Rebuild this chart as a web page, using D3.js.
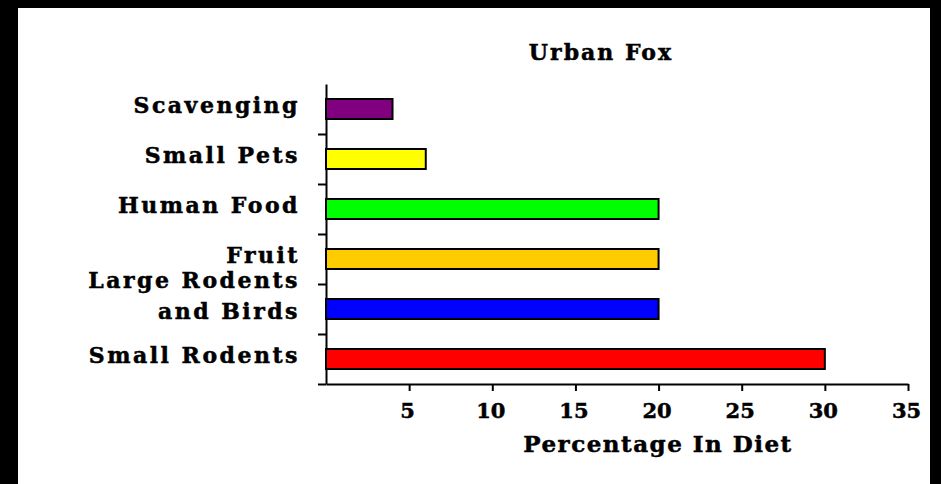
<!DOCTYPE html>
<html>
<head>
<meta charset="utf-8">
<script src="https://cdn.jsdelivr.net/npm/d3@7"></script>
<style>
  html, body { margin: 0; padding: 0; background: #000; }
  svg text { font-family: "DejaVu Serif", "Liberation Serif", serif; font-weight: bold; fill: #000; stroke: #000; stroke-width: 0.5; }
  .axis path, .axis line { stroke: #000; stroke-width: 2; }
</style>
</head>
<body>
<div id="chart"></div>
<script>
// Data
var categories = ["Scavenging", "Small Pets", "Human Food", "Fruit", "Large Rodents|and Birds", "Small Rodents"];
var values = [4, 6, 20, 20, 20, 30];
var colors = ["#800080", "#ffff00", "#00ff00", "#ffcc00", "#0000ff", "#ff0000"];
var xTicks = [5, 10, 15, 20, 25, 30, 35];
var title = "Urban Fox";
var xTitle = "Percentage In Diet";

var W = 941, H = 484;

var svg = d3.select("#chart").append("svg")
  .attr("width", W)
  .attr("height", H);

// black frame with white panel
svg.append("rect").attr("width", W).attr("height", H).attr("fill", "#000");
svg.append("rect")
  .attr("x", 18).attr("y", 8)
  .attr("width", 912).attr("height", H - 8)
  .attr("fill", "#fff");

var data = categories.map(function(c, i) {
  return { label: c, value: values[i], color: colors[i] };
});

var xScale = d3.scaleLinear().domain([0, 35]).range([326, 908]);

var yScale = d3.scaleBand()
  .domain(categories)
  .range([84, 384])
  .paddingInner(0.6)
  .paddingOuter(0.3);

// boundary scale for y ticks between categories
var yEdge = d3.scaleLinear().domain([0, categories.length]).range([84, 384]);

// y axis
var yAxis = d3.axisLeft(yEdge)
  .tickValues(d3.range(1, categories.length + 1))
  .tickSize(8)
  .tickSizeOuter(0)
  .tickFormat("");

svg.append("g")
  .attr("class", "axis y")
  .attr("transform", "translate(" + xScale(0) + ",0)")
  .call(yAxis);

// x axis
var xAxis = d3.axisBottom(xScale)
  .tickValues(xTicks)
  .tickSize(7)
  .tickSizeOuter(0)
  .tickFormat(d3.format("d"));

var xg = svg.append("g")
  .attr("class", "axis x")
  .attr("transform", "translate(0," + yEdge(categories.length) + ")")
  .call(xAxis);

xg.selectAll("text")
  .attr("y", 34)
  .attr("dy", 0)
  .attr("dx", -2)
  .style("font-size", "21px")
  .style("font-family", '"DejaVu Serif", serif');

// bars
svg.append("g")
  .attr("class", "bars")
  .selectAll("rect")
  .data(data)
  .enter()
  .append("rect")
  .attr("x", xScale(0))
  .attr("y", function(d) { return yScale(d.label); })
  .attr("width", function(d) { return xScale(d.value) - xScale(0); })
  .attr("height", yScale.bandwidth())
  .attr("fill", function(d) { return d.color; })
  .attr("stroke", "#000")
  .attr("stroke-width", 2);

// category labels
var labels = svg.append("g")
  .attr("class", "labels")
  .selectAll("text")
  .data(data)
  .enter()
  .append("text")
  .attr("text-anchor", "end")
  .style("font-size", "22px")
  .style("letter-spacing", "2.5px")
  .attr("y", function(d) {
    var c = yScale(d.label) + yScale.bandwidth() / 2;
    return d.label.indexOf("|") >= 0 ? c - 21 : c + 4;
  });

labels.each(function(d) {
  var lines = d.label.split("|");
  var t = d3.select(this);
  lines.forEach(function(line, i) {
    t.append("tspan")
      .attr("x", 300)
      .attr("dy", i === 0 ? 0 : 31)
      .text(line);
  });
});

// titles
svg.append("text")
  .attr("x", 601)
  .attr("y", 60)
  .attr("text-anchor", "middle")
  .style("font-size", "22px")
  .style("letter-spacing", "2px")
  .text(title);

svg.append("text")
  .attr("x", 658)
  .attr("y", 452)
  .attr("text-anchor", "middle")
  .style("font-size", "23px")
  .style("letter-spacing", "1.5px")
  .text(xTitle);
</script>
</body>
</html>
